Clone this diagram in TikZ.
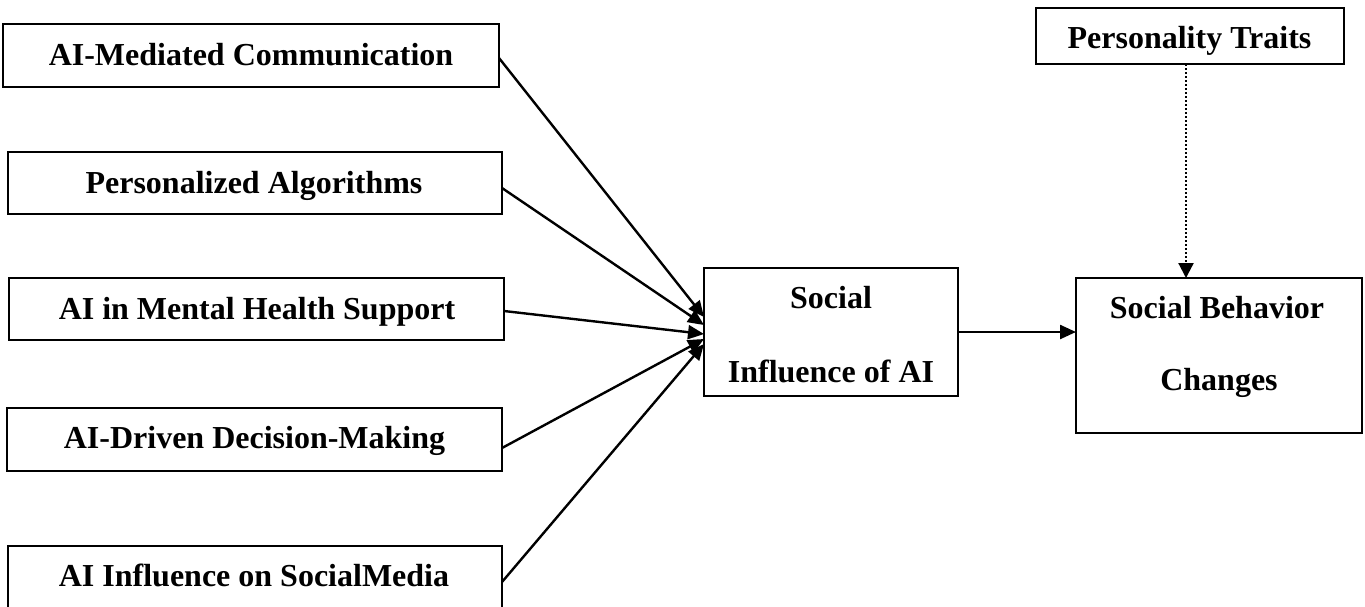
\documentclass[tikz,border=0pt]{standalone}
\usepackage{fontspec}
\setmainfont{Liberation Serif}
\usetikzlibrary{arrows.meta,calc}
\begin{document}
\begin{tikzpicture}[x=1pt,y=-1pt,
  box/.style={draw,line width=2.2pt,inner sep=0pt,outer sep=0pt},
  lbl/.style={font=\fontsize{32}{38}\selectfont\bfseries,anchor=base,inner sep=0pt},
  link/.style={line width=2.4pt,-{Triangle[length=16pt,width=14pt]}},
  moderator/.style={line width=2.2pt,dash pattern=on 2pt off 2pt,-{Triangle[length=15pt,width=15pt]}}]
\useasboundingbox (0,0) rectangle (1365,606);
\clip (0,0) rectangle (1365,606);

% predictor boxes
\node[box,minimum width=496pt,minimum height=63pt] (b1) at (251,55.5) {};
\node[box,minimum width=494pt,minimum height=62pt] (b2) at (255,183) {};
\node[box,minimum width=495pt,minimum height=62pt] (b3) at (256.5,309) {};
\node[box,minimum width=495pt,minimum height=63pt] (b4) at (254.5,439.5) {};
\node[box,minimum width=494pt,minimum height=63pt] (b5) at (255,577.5) {};
\node[lbl] (t1) at (251,65) {AI-Mediated Communication};
\node[lbl] (t2) at (254,193) {Personalized Algorithms};
\node[lbl] (t3) at (257,319) {AI in Mental Health Support};
\node[lbl] (t4) at (254.5,448) {AI-Driven Decision-Making};
\node[lbl] (t5) at (254,586) {AI Influence on SocialMedia};

% mediator
\node[box,minimum width=254pt,minimum height=128pt] (c) at (831,332) {};
\node[lbl] (c1) at (831,308) {Social};
\node[lbl] (c2) at (831,382) {Influence of AI};

% outcome
\node[box,minimum width=286pt,minimum height=155pt] (r) at (1219,355.5) {};
\node[lbl] (r1) at (1217,318) {Social Behavior};
\node[lbl] (r2) at (1219,390) {Changes};

% moderator
\node[box,minimum width=308pt,minimum height=56pt] (p) at (1190,36) {};
\node[lbl] (p1) at (1189.5,48) {Personality Traits};

% paths into the mediator
\draw[link] ($(b1.east)+(0,2.5)$) -- ($(c.west)+(0,-15)$);
\draw[link] ($(b2.east)+(0,5)$) -- ($(c.west)+(0,-7)$);
\draw[link] ($(b3.east)+(0,2)$) -- ($(c.west)+(0,2)$);
\draw[link] ($(b4.east)+(0,8.5)$) -- ($(c.west)+(0,7)$);
\draw[link] ($(b5.east)+(0,4.5)$) -- ($(c.west)+(0,12)$);

% mediator to outcome
\draw[link] (c.east) -- (c.east -| r.west);

% moderating path
\coordinate (pd) at ($(p.south)+(-4,0)$);
\draw[moderator] (pd) -- (pd |- r.north);
\end{tikzpicture}
\end{document}
